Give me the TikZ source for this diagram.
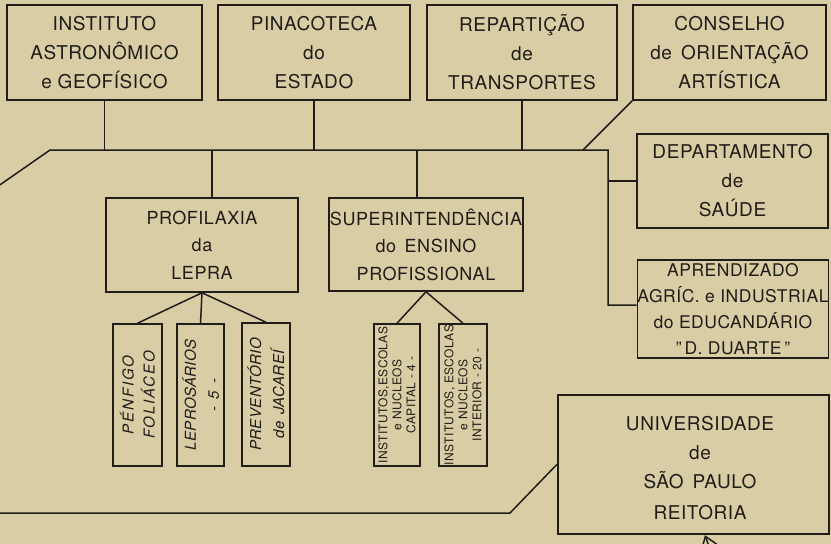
\documentclass[tikz,border=0pt]{standalone}
\usepackage{fontspec}
\setmainfont[LetterSpace=3]{TeX Gyre Heros}
\usetikzlibrary{arrows.meta}
\definecolor{paper}{RGB}{217,205,166}
\definecolor{ink}{RGB}{32,28,24}
\begin{document}
\begin{tikzpicture}[x=1pt,y=-1pt,color=ink,line width=1.5pt,
  box/.style={draw,line width=1.6pt,inner sep=0pt,align=center,
    font=\fontsize{19}{29}\selectfont},
  midbox/.style={box,font=\fontsize{18}{27.5}\selectfont},
  aprbox/.style={box,font=\fontsize{17.5}{26}\selectfont},
  vbox/.style={draw,line width=1.5pt,inner sep=0pt,minimum width=47pt,minimum height=142pt},
  vtext/.style={rotate=90,align=center,inner sep=0pt,
    font=\fontsize{15}{23}\selectfont\itshape},
  vtextsmall/.style={rotate=90,align=center,inner sep=0pt,
    font=\fontsize{12}{14}\selectfont}]
\fill[paper] (0,0) rectangle (831,544);
\useasboundingbox (0,0) rectangle (831,544);

% top row
\node[box,minimum width=195pt,minimum height=95pt] (inst) at (104.5,52.5)
  {INSTITUTO\\ASTRONÔMICO\\e GEOFÍSICO};
\node[box,minimum width=192pt,minimum height=95pt] (pina) at (314,52.5)
  {PINACOTECA\\do\\ESTADO};
\node[box,minimum width=190pt,minimum height=95pt] (rep) at (522,52.5)
  {REPARTIÇÃO\\de\\TRANSPORTES};
\node[box,minimum width=193pt,minimum height=95pt] (cons) at (729.5,52.5)
  {CONSELHO\\de \,ORIENTAÇÃO\\ARTÍSTICA};

% right column
\node[box,minimum width=191pt,minimum height=94pt] (dep) at (732.5,181)
  {DEPARTAMENTO\\de\\SAÚDE};
\node[aprbox,minimum width=190pt,minimum height=98pt] (apr) at (733,309)
  {APRENDIZADO\\AGRÍC. e INDUSTRIAL\\do EDUCANDÁRIO\\"\,D. DUARTE\,"};

% middle row
\node[midbox,minimum width=192pt,minimum height=94pt] (prof) at (202,245)
  {PROFILAXIA\\da\\LEPRA};
\node[midbox,minimum width=194pt,minimum height=93pt] (sup) at (426,244.5)
  {SUPERINTENDÊNCIA\\do \,ENSINO\\PROFISSIONAL};

% vertical boxes
\node[vbox,minimum width=49pt] (pen) at (137.5,395) {};
\node[vtext,font=\fontsize{15}{21}\selectfont\itshape\addfontfeature{LetterSpace=12}]
  (pent) at (pen.center) {PÉNFIGO\\FOLIÁCEO};
\node[vbox] (lep) at (200.5,395) {};
\node[vtext] (lept) at (lep.center) {LEPROSÁRIOS\\- \,5 \,-};
\node[vbox,minimum width=48pt,minimum height=143pt] (prev) at (266,394.5) {};
\node[vtext] (prevt) at (prev.center) {PREVENTÓRIO\\de \,JACAREÍ};
\node[vbox,minimum width=46pt] (cap) at (397,395) {};
\node[vtextsmall] (capt) at (cap.center) {INSTITUTOS,ESCOLAS\\e NUCLEOS\\CAPITAL - 4 -};
\node[vbox,minimum width=48pt] (int) at (463,395) {};
\node[vtextsmall] (intt) at (int.center) {INSTITUTOS, ESCOLAS\\e NUCLEOS\\INTERIOR - 20 -};

% university
\node[draw,line width=2.4pt,minimum width=271pt,minimum height=139pt] (univ) at (693.5,464.5) {};
\node[align=center,inner sep=0pt,font=\fontsize{19}{29}\selectfont] (univt) at (700,468)
  {UNIVERSIDADE\\de\\SÃO \,PAULO\\[2pt]REITORIA};

% connectors
\coordinate (edgeL) at (-6,189);
\coordinate (hL) at (50,150);
\coordinate (hR) at (608,150);
\coordinate (aj) at (608,305);
\coordinate (cj) at (583,150);
\coordinate (pj) at (212,150);
\coordinate (sj) at (417,150);
\draw (edgeL) -- (hL) -- (hR) -- (aj) -- (aj -| apr.west);
\draw (inst.south) -- (inst.south |- hL);
\draw (pina.south) -- (pina.south |- hL);
\draw (rep.south) -- (rep.south |- hL);
\draw (cons.south west) -- (cj);
\draw (pj) -- (pj |- prof.north);
\draw (sj) -- (sj |- sup.north);
\draw (dep.west) -- (dep.west -| hR);
\draw (prof.south) -- (pen.north);
\draw (prof.south) -- (lep.north);
\draw (prof.south) -- (prev.north);
\draw (sup.south) -- (cap.north);
\draw (sup.south) -- (int.north);
\coordinate (bL) at (-6,513);
\coordinate (bk) at (510,513);
\draw (bL) -- (bk) -- (univ.west);
\coordinate (arrS) at (718,572);
\draw[-{Straight Barb[length=11pt,width=16pt,line width=1.5pt]}] (arrS) -- (univ.south -| 705,0);
\end{tikzpicture}
\end{document}
